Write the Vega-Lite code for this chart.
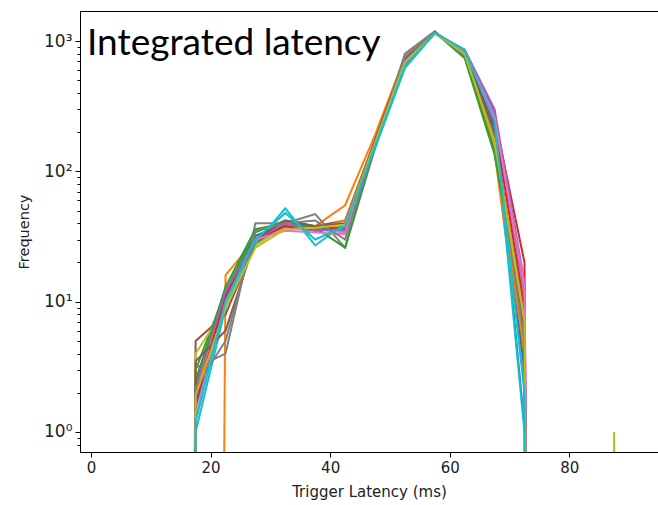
{
  "$schema": "https://vega.github.io/schema/vega-lite/v6.json",
  "width": 578,
  "height": 441,
  "autosize": {"type": "none"},
  "padding": {"left": 80, "top": 11, "right": 0, "bottom": 53},
  "background": "white",
  "title": {"text": "Integrated latency", "anchor": "start", "frame": "group", "orient": "none", "dx": 7, "dy": 44, "baseline": "alphabetic", "align": "left", "font": "Lato", "fontSize": 37, "fontWeight": "normal", "color": "#000"},
  "config": {
    "view": {"stroke": "#000", "strokeWidth": 1},
    "axis": {"grid": false, "domainColor": "#000", "domainWidth": 1, "tickColor": "#000", "tickWidth": 1, "labelFont": "DejaVu Sans", "labelColor": "#222", "titleFont": "DejaVu Sans", "titleFontWeight": "normal", "titleColor": "#222", "labelFlush": false}
  },
  "data": {"values": [
    {"run":"s01","latency":12.5,"count":1e-30},{"run":"s01","latency":17.5,"count":2.5},{"run":"s01","latency":22.5,"count":12},{"run":"s01","latency":27.5,"count":30},{"run":"s01","latency":32.5,"count":38},{"run":"s01","latency":37.5,"count":36},{"run":"s01","latency":42.5,"count":38},{"run":"s01","latency":47.5,"count":170},{"run":"s01","latency":52.5,"count":700},{"run":"s01","latency":57.5,"count":1150},{"run":"s01","latency":62.5,"count":820},{"run":"s01","latency":67.5,"count":280},{"run":"s01","latency":72.5,"count":1.1},{"run":"s01","latency":77.5,"count":1e-30},
    {"run":"s02","latency":17.5,"count":1e-30},{"run":"s02","latency":22.5,"count":16},{"run":"s02","latency":27.5,"count":30},{"run":"s02","latency":32.5,"count":42},{"run":"s02","latency":37.5,"count":38},{"run":"s02","latency":42.5,"count":55},{"run":"s02","latency":47.5,"count":190},{"run":"s02","latency":52.5,"count":760},{"run":"s02","latency":57.5,"count":1160},{"run":"s02","latency":62.5,"count":780},{"run":"s02","latency":67.5,"count":140},{"run":"s02","latency":72.5,"count":2.6},{"run":"s02","latency":77.5,"count":1e-30},
    {"run":"s03","latency":12.5,"count":1e-30},{"run":"s03","latency":17.5,"count":3},{"run":"s03","latency":22.5,"count":12},{"run":"s03","latency":27.5,"count":34},{"run":"s03","latency":32.5,"count":42},{"run":"s03","latency":37.5,"count":38},{"run":"s03","latency":42.5,"count":34},{"run":"s03","latency":47.5,"count":165},{"run":"s03","latency":52.5,"count":720},{"run":"s03","latency":57.5,"count":1180},{"run":"s03","latency":62.5,"count":760},{"run":"s03","latency":67.5,"count":145},{"run":"s03","latency":72.5,"count":6},{"run":"s03","latency":77.5,"count":1e-30},
    {"run":"s04","latency":12.5,"count":1e-30},{"run":"s04","latency":17.5,"count":2},{"run":"s04","latency":22.5,"count":11},{"run":"s04","latency":27.5,"count":28},{"run":"s04","latency":32.5,"count":40},{"run":"s04","latency":37.5,"count":37},{"run":"s04","latency":42.5,"count":36},{"run":"s04","latency":47.5,"count":170},{"run":"s04","latency":52.5,"count":700},{"run":"s04","latency":57.5,"count":1150},{"run":"s04","latency":62.5,"count":820},{"run":"s04","latency":67.5,"count":260},{"run":"s04","latency":72.5,"count":20},{"run":"s04","latency":77.5,"count":1e-30},
    {"run":"s05","latency":12.5,"count":1e-30},{"run":"s05","latency":17.5,"count":1.8},{"run":"s05","latency":22.5,"count":10},{"run":"s05","latency":27.5,"count":30},{"run":"s05","latency":32.5,"count":38},{"run":"s05","latency":37.5,"count":36},{"run":"s05","latency":42.5,"count":35},{"run":"s05","latency":47.5,"count":160},{"run":"s05","latency":52.5,"count":650},{"run":"s05","latency":57.5,"count":1140},{"run":"s05","latency":62.5,"count":860},{"run":"s05","latency":67.5,"count":300},{"run":"s05","latency":72.5,"count":14},{"run":"s05","latency":77.5,"count":1e-30},
    {"run":"s06","latency":12.5,"count":1e-30},{"run":"s06","latency":17.5,"count":5},{"run":"s06","latency":22.5,"count":8},{"run":"s06","latency":27.5,"count":28},{"run":"s06","latency":32.5,"count":40},{"run":"s06","latency":37.5,"count":38},{"run":"s06","latency":42.5,"count":42},{"run":"s06","latency":47.5,"count":175},{"run":"s06","latency":52.5,"count":740},{"run":"s06","latency":57.5,"count":1170},{"run":"s06","latency":62.5,"count":800},{"run":"s06","latency":67.5,"count":200},{"run":"s06","latency":72.5,"count":5},{"run":"s06","latency":77.5,"count":1e-30},
    {"run":"s07","latency":12.5,"count":1e-30},{"run":"s07","latency":17.5,"count":1.5},{"run":"s07","latency":22.5,"count":10},{"run":"s07","latency":27.5,"count":32},{"run":"s07","latency":32.5,"count":36},{"run":"s07","latency":37.5,"count":36},{"run":"s07","latency":42.5,"count":34},{"run":"s07","latency":47.5,"count":160},{"run":"s07","latency":52.5,"count":680},{"run":"s07","latency":57.5,"count":1160},{"run":"s07","latency":62.5,"count":850},{"run":"s07","latency":67.5,"count":270},{"run":"s07","latency":72.5,"count":11},{"run":"s07","latency":77.5,"count":1e-30},
    {"run":"s08","latency":12.5,"count":1e-30},{"run":"s08","latency":17.5,"count":3.1},{"run":"s08","latency":22.5,"count":4},{"run":"s08","latency":27.5,"count":40},{"run":"s08","latency":32.5,"count":40},{"run":"s08","latency":37.5,"count":47},{"run":"s08","latency":42.5,"count":26},{"run":"s08","latency":47.5,"count":150},{"run":"s08","latency":52.5,"count":800},{"run":"s08","latency":57.5,"count":1190},{"run":"s08","latency":62.5,"count":760},{"run":"s08","latency":67.5,"count":180},{"run":"s08","latency":72.5,"count":4},{"run":"s08","latency":77.5,"count":1e-30},
    {"run":"s09","latency":12.5,"count":1e-30},{"run":"s09","latency":17.5,"count":4},{"run":"s09","latency":22.5,"count":9},{"run":"s09","latency":27.5,"count":27},{"run":"s09","latency":32.5,"count":38},{"run":"s09","latency":37.5,"count":38},{"run":"s09","latency":42.5,"count":38},{"run":"s09","latency":47.5,"count":160},{"run":"s09","latency":52.5,"count":700},{"run":"s09","latency":57.5,"count":1170},{"run":"s09","latency":62.5,"count":800},{"run":"s09","latency":67.5,"count":170},{"run":"s09","latency":72.5,"count":8},{"run":"s09","latency":77.5,"count":1e-30},{"run":"s09","latency":82.5,"count":1e-30},{"run":"s09","latency":87.5,"count":1},{"run":"s09","latency":92.5,"count":1e-30},
    {"run":"s10","latency":12.5,"count":1e-30},{"run":"s10","latency":17.5,"count":1},{"run":"s10","latency":22.5,"count":9},{"run":"s10","latency":27.5,"count":28},{"run":"s10","latency":32.5,"count":52},{"run":"s10","latency":37.5,"count":27},{"run":"s10","latency":42.5,"count":40},{"run":"s10","latency":47.5,"count":150},{"run":"s10","latency":52.5,"count":620},{"run":"s10","latency":57.5,"count":1150},{"run":"s10","latency":62.5,"count":860},{"run":"s10","latency":67.5,"count":250},{"run":"s10","latency":72.5,"count":1},{"run":"s10","latency":77.5,"count":1e-30},
    {"run":"s11","latency":12.5,"count":1e-30},{"run":"s11","latency":17.5,"count":1.6},{"run":"s11","latency":22.5,"count":11},{"run":"s11","latency":27.5,"count":32},{"run":"s11","latency":32.5,"count":40},{"run":"s11","latency":37.5,"count":37},{"run":"s11","latency":42.5,"count":36},{"run":"s11","latency":47.5,"count":165},{"run":"s11","latency":52.5,"count":700},{"run":"s11","latency":57.5,"count":1160},{"run":"s11","latency":62.5,"count":840},{"run":"s11","latency":67.5,"count":220},{"run":"s11","latency":72.5,"count":3},{"run":"s11","latency":77.5,"count":1e-30},
    {"run":"s12","latency":12.5,"count":1e-30},{"run":"s12","latency":17.5,"count":2},{"run":"s12","latency":22.5,"count":12},{"run":"s12","latency":27.5,"count":30},{"run":"s12","latency":32.5,"count":40},{"run":"s12","latency":37.5,"count":36},{"run":"s12","latency":42.5,"count":42},{"run":"s12","latency":47.5,"count":170},{"run":"s12","latency":52.5,"count":720},{"run":"s12","latency":57.5,"count":1150},{"run":"s12","latency":62.5,"count":800},{"run":"s12","latency":67.5,"count":160},{"run":"s12","latency":72.5,"count":4},{"run":"s12","latency":77.5,"count":1e-30},
    {"run":"s13","latency":12.5,"count":1e-30},{"run":"s13","latency":17.5,"count":2.4},{"run":"s13","latency":22.5,"count":13},{"run":"s13","latency":27.5,"count":36},{"run":"s13","latency":32.5,"count":40},{"run":"s13","latency":37.5,"count":37},{"run":"s13","latency":42.5,"count":26},{"run":"s13","latency":47.5,"count":160},{"run":"s13","latency":52.5,"count":700},{"run":"s13","latency":57.5,"count":1170},{"run":"s13","latency":62.5,"count":740},{"run":"s13","latency":67.5,"count":135},{"run":"s13","latency":72.5,"count":7},{"run":"s13","latency":77.5,"count":1e-30},
    {"run":"s14","latency":12.5,"count":1e-30},{"run":"s14","latency":17.5,"count":1.7},{"run":"s14","latency":22.5,"count":11},{"run":"s14","latency":27.5,"count":30},{"run":"s14","latency":32.5,"count":38},{"run":"s14","latency":37.5,"count":35},{"run":"s14","latency":42.5,"count":37},{"run":"s14","latency":47.5,"count":165},{"run":"s14","latency":52.5,"count":690},{"run":"s14","latency":57.5,"count":1160},{"run":"s14","latency":62.5,"count":830},{"run":"s14","latency":67.5,"count":230},{"run":"s14","latency":72.5,"count":9},{"run":"s14","latency":77.5,"count":1e-30},
    {"run":"s15","latency":12.5,"count":1e-30},{"run":"s15","latency":17.5,"count":2.2},{"run":"s15","latency":22.5,"count":12},{"run":"s15","latency":27.5,"count":30},{"run":"s15","latency":32.5,"count":40},{"run":"s15","latency":37.5,"count":35},{"run":"s15","latency":42.5,"count":36},{"run":"s15","latency":47.5,"count":160},{"run":"s15","latency":52.5,"count":670},{"run":"s15","latency":57.5,"count":1150},{"run":"s15","latency":62.5,"count":850},{"run":"s15","latency":67.5,"count":280},{"run":"s15","latency":72.5,"count":12},{"run":"s15","latency":77.5,"count":1e-30},
    {"run":"s16","latency":12.5,"count":1e-30},{"run":"s16","latency":17.5,"count":3.5},{"run":"s16","latency":22.5,"count":6},{"run":"s16","latency":27.5,"count":30},{"run":"s16","latency":32.5,"count":42},{"run":"s16","latency":37.5,"count":38},{"run":"s16","latency":42.5,"count":40},{"run":"s16","latency":47.5,"count":170},{"run":"s16","latency":52.5,"count":720},{"run":"s16","latency":57.5,"count":1160},{"run":"s16","latency":62.5,"count":790},{"run":"s16","latency":67.5,"count":190},{"run":"s16","latency":72.5,"count":6},{"run":"s16","latency":77.5,"count":1e-30},
    {"run":"s17","latency":12.5,"count":1e-30},{"run":"s17","latency":17.5,"count":1.3},{"run":"s17","latency":22.5,"count":10},{"run":"s17","latency":27.5,"count":30},{"run":"s17","latency":32.5,"count":35},{"run":"s17","latency":37.5,"count":34},{"run":"s17","latency":42.5,"count":33},{"run":"s17","latency":47.5,"count":160},{"run":"s17","latency":52.5,"count":690},{"run":"s17","latency":57.5,"count":1150},{"run":"s17","latency":62.5,"count":840},{"run":"s17","latency":67.5,"count":260},{"run":"s17","latency":72.5,"count":13},{"run":"s17","latency":77.5,"count":1e-30},
    {"run":"s18","latency":12.5,"count":1e-30},{"run":"s18","latency":17.5,"count":2.2},{"run":"s18","latency":22.5,"count":5},{"run":"s18","latency":27.5,"count":35},{"run":"s18","latency":32.5,"count":40},{"run":"s18","latency":37.5,"count":42},{"run":"s18","latency":42.5,"count":30},{"run":"s18","latency":47.5,"count":160},{"run":"s18","latency":52.5,"count":760},{"run":"s18","latency":57.5,"count":1180},{"run":"s18","latency":62.5,"count":770},{"run":"s18","latency":67.5,"count":180},{"run":"s18","latency":72.5,"count":5},{"run":"s18","latency":77.5,"count":1e-30},
    {"run":"s19","latency":12.5,"count":1e-30},{"run":"s19","latency":17.5,"count":1.9},{"run":"s19","latency":22.5,"count":9},{"run":"s19","latency":27.5,"count":26},{"run":"s19","latency":32.5,"count":36},{"run":"s19","latency":37.5,"count":37},{"run":"s19","latency":42.5,"count":39},{"run":"s19","latency":47.5,"count":165},{"run":"s19","latency":52.5,"count":690},{"run":"s19","latency":57.5,"count":1150},{"run":"s19","latency":62.5,"count":800},{"run":"s19","latency":67.5,"count":170},{"run":"s19","latency":72.5,"count":7},{"run":"s19","latency":77.5,"count":1e-30},
    {"run":"s20","latency":12.5,"count":1e-30},{"run":"s20","latency":17.5,"count":1.2},{"run":"s20","latency":22.5,"count":10},{"run":"s20","latency":27.5,"count":30},{"run":"s20","latency":32.5,"count":48},{"run":"s20","latency":37.5,"count":30},{"run":"s20","latency":42.5,"count":38},{"run":"s20","latency":47.5,"count":155},{"run":"s20","latency":52.5,"count":640},{"run":"s20","latency":57.5,"count":1160},{"run":"s20","latency":62.5,"count":850},{"run":"s20","latency":67.5,"count":240},{"run":"s20","latency":72.5,"count":2},{"run":"s20","latency":77.5,"count":1e-30}
  ]},
  "mark": {"type": "line", "strokeWidth": 2, "clip": true},
  "encoding": {
    "x": {
      "field": "latency", "type": "quantitative",
      "scale": {"domain": [-1.84, 94.83], "nice": false, "zero": false},
      "axis": {"values": [0, 20, 40, 60, 80], "title": "Trigger Latency (ms)", "tickSize": 5, "labelFontSize": 15, "labelPadding": 3, "titleFontSize": 15, "titlePadding": 9}
    },
    "y": {
      "field": "count", "type": "quantitative",
      "scale": {"type": "log", "domain": [0.7022, 1702], "nice": false},
      "axis": {
        "values": [0.8, 0.9, 1, 2, 3, 4, 5, 6, 7, 8, 9, 10, 20, 30, 40, 50, 60, 70, 80, 90, 100, 200, 300, 400, 500, 600, 700, 800, 900, 1000],
        "labelExpr": "datum.value == 1 ? '10⁰' : datum.value == 10 ? '10¹' : datum.value == 100 ? '10²' : datum.value == 1000 ? '10³' : ''",
        "tickSize": {"condition": {"test": "indexof([1, 10, 100, 1000], datum.value) >= 0", "value": 5}, "value": 3},
        "labelOverlap": false, "labelFontSize": 17, "labelPadding": 3,
        "title": "Frequency", "titleFontSize": 14.5, "titlePadding": 12
      }
    },
    "color": {
      "field": "run", "type": "nominal", "legend": null,
      "scale": {"range": ["#1f77b4", "#ff7f0e", "#2ca02c", "#d62728", "#9467bd", "#8c564b", "#e377c2", "#7f7f7f", "#bcbd22", "#17becf", "#1f77b4", "#ff7f0e", "#2ca02c", "#d62728", "#9467bd", "#8c564b", "#e377c2", "#7f7f7f", "#bcbd22", "#17becf"]}
    }
  }
}
